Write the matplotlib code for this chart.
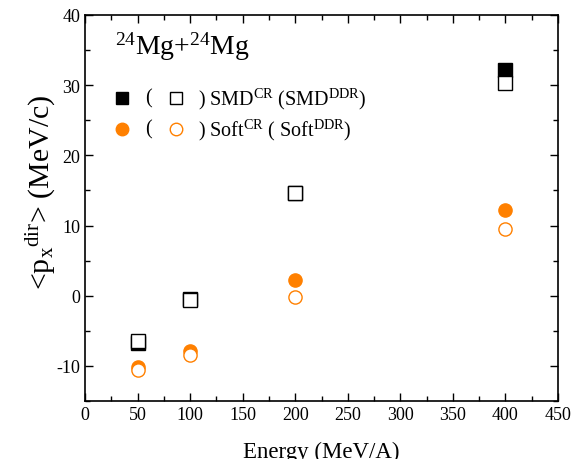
import matplotlib
matplotlib.use("Agg")
import matplotlib.pyplot as plt
from matplotlib.ticker import MultipleLocator

plt.rcParams['font.family'] = ['Liberation Serif', 'DejaVu Serif']
plt.rcParams['mathtext.fontset'] = 'custom'
plt.rcParams['mathtext.rm'] = 'Liberation Serif'
plt.rcParams['mathtext.it'] = 'Liberation Serif'
plt.rcParams['mathtext.bf'] = 'Liberation Serif:bold'
plt.rcParams['axes.unicode_minus'] = False

energy = [50, 100, 200, 400]
smd_cr = [-6.7, -0.5, 14.7, 32.2]
smd_ddr = [-6.5, -0.6, 14.6, 30.3]
soft_cr = [-10.2, -7.9, 2.2, 12.2]
soft_ddr = [-10.6, -8.4, -0.2, 9.5]

orange = '#ff8000'

fig = plt.figure(figsize=(5.71, 4.60), dpi=100)
ax = fig.add_axes([85/571, 1-402/460, (558-85)/571, (402-16)/460])

ax.plot(energy, smd_cr, 's', color='black', ms=9.5, zorder=3)
ax.plot(energy, smd_ddr, 's', mfc='white', mec='black', mew=1.0, ms=9.5, zorder=4)
ax.plot(energy, soft_cr, 'o', color=orange, ms=9.5, zorder=3)
ax.plot(energy, soft_ddr, 'o', mfc='white', mec=orange, mew=1.0, ms=9.5, zorder=4)

ax.set_xlim(0, 450)
ax.set_ylim(-15, 40)
ax.xaxis.set_major_locator(MultipleLocator(50))
ax.xaxis.set_minor_locator(MultipleLocator(25))
ax.yaxis.set_major_locator(MultipleLocator(10))
ax.yaxis.set_minor_locator(MultipleLocator(5))
ax.tick_params(which='both', direction='in', top=True, right=True, labelsize=13, width=1.0)
ax.tick_params(which='major', length=6)
ax.tick_params(which='minor', length=3.5)
for s in ax.spines.values():
    s.set_linewidth(1.2)

ax.set_xlabel('Energy (MeV/A)', fontsize=16.5, labelpad=13)
ax.set_ylabel(r'<p$_{\mathrm{x}}$$^{\mathrm{dir}}$> (MeV/c)', fontsize=21.5)
ax.yaxis.set_label_coords(-0.058, 1 - (192 - 16) / 386)

ax.text(0.063, 0.92, r'$^{24}$Mg+$^{24}$Mg', transform=ax.transAxes, fontsize=20, va='center')

# legend rows
rows = [
    (1 - (99 - 16) / 386, 's', 'black', r') SMD$^{\mathrm{CR}}$ (SMD$^{\mathrm{DDR}}$)'),
    (1 - (130 - 16) / 386, 'o', orange, r') Soft$^{\mathrm{CR}}$ ( Soft$^{\mathrm{DDR}}$)'),
]
for y, m, c, label in rows:
    ax.plot([(122 - 85) / 473], [y], m, color=c, ms=9, transform=ax.transAxes, clip_on=False)
    ax.text((145 - 85) / 473, y, '(', transform=ax.transAxes, fontsize=14.5, va='center')
    ax.plot([(176 - 85) / 473], [y], m, mfc='white', mec=c, mew=1.0, ms=9,
             transform=ax.transAxes, clip_on=False)
    ax.text((198 - 85) / 473, y, label, transform=ax.transAxes, fontsize=14.5, va='center')

fig.savefig('out.png', dpi=100)
